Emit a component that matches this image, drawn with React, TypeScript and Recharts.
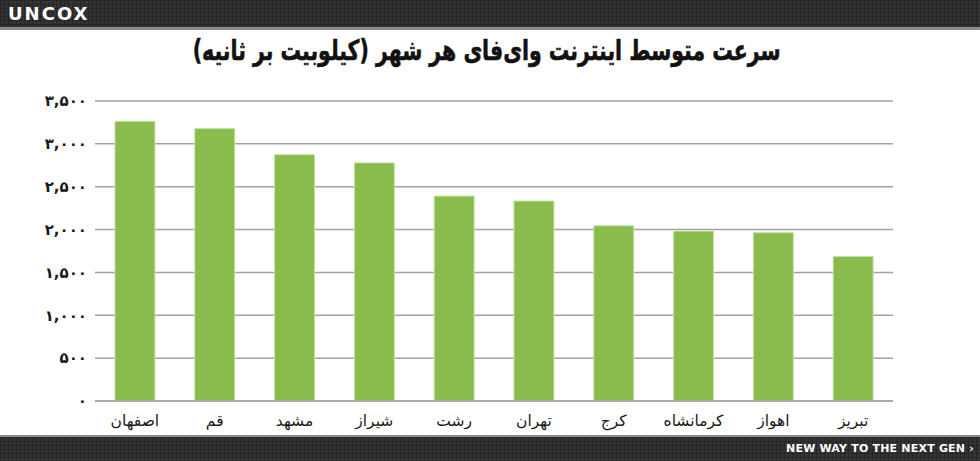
import React from "react";
import { BarChart, Bar, XAxis, YAxis, CartesianGrid } from "recharts";

const cities = ["اصفهان", "قم", "مشهد", "شیراز", "رشت", "تهران", "کرج", "کرمانشاه", "اهواز", "تبریز"];
const speeds = [3263, 3178, 2874, 2778, 2391, 2333, 2044, 1982, 1963, 1686];
const yTicks = [0, 500, 1000, 1500, 2000, 2500, 3000, 3500];
const title = "سرعت متوسط اینترنت وای‌فای هر شهر (کیلوبیت بر ثانیه)";
const logoText = "UNCOX";
const footerText = "NEW WAY TO THE NEXT GEN ›";

const data = cities.map((c, i) => ({ city: c, speed: speeds[i] }));

const faDigits = "۰۱۲۳۴۵۶۷۸۹";
const toFa = (v: number) =>
  v
    .toLocaleString("en-US")
    .replace(/\d/g, (d) => faDigits[Number(d)]);

const pattern: React.CSSProperties = {
  backgroundColor: "#343434",
  backgroundImage:
    "linear-gradient(#262626 1px, transparent 1px), linear-gradient(90deg, #262626 1px, transparent 1px)",
  backgroundSize: "4px 4px",
};

export default function App() {
  return (
    <div
      style={{
        position: "fixed",
        left: 0,
        top: 0,
        width: 980,
        height: 461,
        background: "#fff",
        overflow: "hidden",
        fontFamily: "DejaVu Sans, sans-serif",
      }}
    >
      <div style={{ position: "absolute", left: 0, top: 0, width: 980, height: 27, ...pattern }} />
      <div style={{ position: "absolute", left: 0, top: 27, width: 980, height: 3, background: "#8c8c8c" }} />
      <div
        style={{
          position: "absolute",
          left: 8,
          top: 4,
          color: "#fff",
          fontFamily: "DejaVu Sans",
          fontWeight: "bold",
          fontSize: 18,
          letterSpacing: 2,
          lineHeight: "20px",
        }}
      >
        {logoText}
      </div>

      <div
        style={{
          position: "absolute",
          left: 0,
          top: 32,
          width: 974,
          display: "flex",
          justifyContent: "center",
        }}
      >
        <span
          dir="rtl"
          style={{
            display: "inline-block",
            transform: "scaleX(0.73)",
            transformOrigin: "center",
            color: "#111",
            fontFamily: "DejaVu Sans",
            fontWeight: "bold",
            fontSize: 28,
            lineHeight: "38px",
            whiteSpace: "nowrap",
            WebkitTextStroke: "0.6px #111",
          }}
        >
          {title}
        </span>
      </div>

      <BarChart
        width={980}
        height={461}
        data={data}
        margin={{ top: 101, right: 87, bottom: 30, left: 0 }}
        barCategoryGap="25%"
        style={{ position: "absolute", left: 0, top: 0 }}
      >
        <CartesianGrid vertical={false} stroke="#a3a3a3" strokeWidth={1.5} />
        <XAxis
          dataKey="city"
          height={30}
          axisLine={{ stroke: "#a3a3a3", strokeWidth: 1.5 }}
          tickLine={false}
          tick={{ fill: "#1a1a1a", fontSize: 15.5, fontFamily: "DejaVu Sans" }}
          tickMargin={8}
          interval={0}
        />
        <YAxis
          width={95}
          domain={[0, 3500]}
          ticks={yTicks}
          axisLine={false}
          tickLine={false}
          tickFormatter={toFa}
          tick={{ fill: "#1a1a1a", fontSize: 15, fontWeight: "bold", fontFamily: "DejaVu Sans" }}
        />
        <Bar dataKey="speed" fill="#89bc4c" stroke="#c8e2aa" strokeWidth={1} isAnimationActive={false} />
      </BarChart>

      <div style={{ position: "absolute", left: 0, top: 435, width: 980, height: 2, background: "#8c8c8c" }} />
      <div style={{ position: "absolute", left: 0, top: 437, width: 980, height: 24, ...pattern }} />
      <div
        style={{
          position: "absolute",
          right: 6,
          top: 441,
          color: "#fff",
          fontFamily: "DejaVu Sans",
          fontWeight: "bold",
          fontSize: 11,
          letterSpacing: 0.2,
          lineHeight: "16px",
        }}
      >
        {footerText}
      </div>
    </div>
  );
}
